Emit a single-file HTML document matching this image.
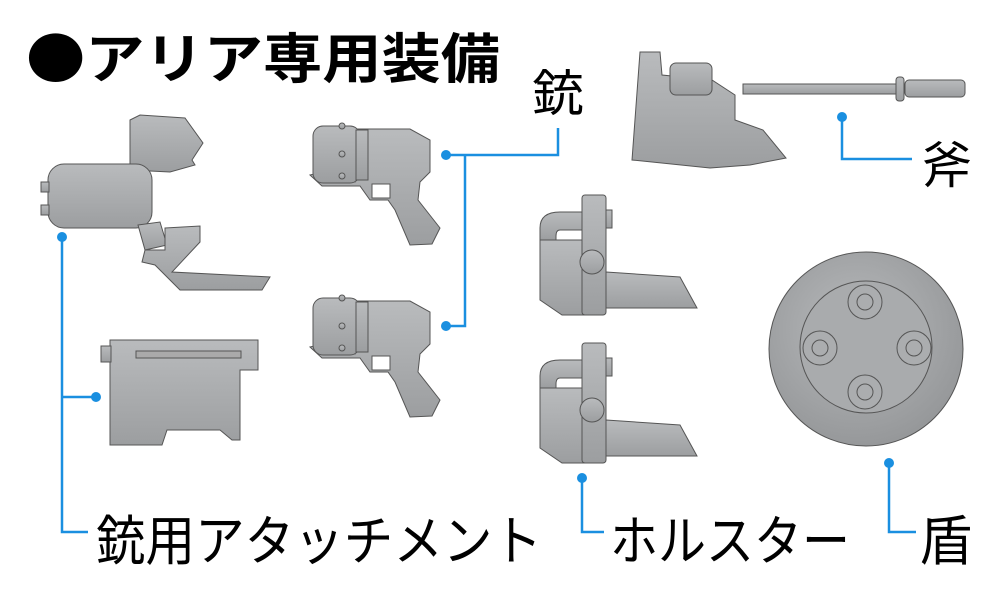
<!DOCTYPE html>
<html><head><meta charset="utf-8"><style>
html,body{margin:0;padding:0;background:#fff;}
svg{display:block}
text{font-family:"Liberation Sans","Noto Sans CJK JP",sans-serif;}
</style></head><body>
<svg width="1000" height="603" viewBox="0 0 1000 603" xmlns="http://www.w3.org/2000/svg">
<defs>
<linearGradient id="g" x1="0" y1="0" x2="0" y2="1"><stop offset="0" stop-color="#b9bbbd"/><stop offset="1" stop-color="#9c9ea0"/></linearGradient>
<radialGradient id="rg" cx="0.45" cy="0.4" r="0.6"><stop offset="0" stop-color="#b8babc"/><stop offset="1" stop-color="#96989a"/></radialGradient>
</defs>
<g stroke="#555" stroke-width="1" fill="url(#g)">
<!-- attachment upper -->
<path d="M130 120 L140 115 L185 118 L203 143 L192 160 L195 165 L170 172 L130 170 Z"/>
<rect x="48" y="164" width="104" height="64" rx="16"/>
<rect x="41" y="182" width="8" height="10"/><rect x="41" y="205" width="8" height="10"/>
<path d="M138 225 L160 222 L167 245 L145 250 Z"/>
<path d="M165 228 L200 226 L200 242 L172 272 L270 277 L262 290 L180 290 L155 265 L142 262 L145 250 L165 250 Z"/>
<!-- attachment lower -->
<path d="M110 340 L258 340 L258 370 L240 370 L240 440 L232 440 L220 430 L167 430 L162 445 L110 445 Z"/>
<rect x="101" y="346" width="10" height="16"/>
<rect x="136" y="351" width="105" height="7" fill="#aaa"/>
<!-- guns -->
<g id="gun">
<path d="M355 129 L410 129 L430 140 L430 172 L420 182 L418 200 L440 228 L432 244 L410 245 L395 210 L388 200 L370 200 L360 186 L322 186 L310 175 L322 172 L355 182 Z"/>
<rect x="372" y="184" width="18" height="14" fill="#fff"/>
<rect x="313" y="126" width="47" height="57" rx="10"/>
<rect x="356" y="130" width="12" height="50"/>
<circle cx="342" cy="126" r="3"/><circle cx="342" cy="154" r="3"/><circle cx="342" cy="176" r="3"/>
</g>
<use href="#gun" transform="translate(0,172)"/>
<!-- axe -->
<path d="M640 52 L660 52 L662 75 L712 80 L735 95 L735 120 L763 130 L786 158 L750 165 L710 168 L632 160 Z"/>
<rect x="670" y="63" width="42" height="32" rx="6"/>
<rect x="743" y="84" width="158" height="10"/>
<rect x="896" y="77" width="8" height="24" rx="3"/>
<rect x="905" y="80" width="60" height="17" rx="4"/>
<!-- holsters -->
<g id="hol">
<path d="M540 228 Q540 212 560 212 L582 212 L582 230 L560 230 Q556 230 556 236 L556 240 L540 240 Z"/>
<path d="M540 240 L582 240 L585 315 L562 315 L540 300 Z"/>
<rect x="582" y="195" width="24" height="120" rx="3"/>
<rect x="606" y="210" width="6" height="18"/>
<path d="M606 272 L680 277 L697 308 L606 308 Z"/>
<circle cx="592" cy="262" r="12"/>
</g>
<use href="#hol" transform="translate(0,148)"/>
<!-- shield -->
<circle cx="866" cy="349" r="97" fill="url(#rg)"/>
<circle cx="866" cy="347" r="66" fill="#a9abad"/>
<g fill="#abadaf"><circle cx="865" cy="302" r="17"/><circle cx="865" cy="302" r="8"/>
<circle cx="820" cy="348" r="17"/><circle cx="820" cy="348" r="8"/>
<circle cx="914" cy="348" r="17"/><circle cx="914" cy="348" r="8"/>
<circle cx="865" cy="392" r="17"/><circle cx="865" cy="392" r="8"/></g>
</g>
<!-- connectors -->
<g stroke="#1a8fe0" stroke-width="2.5" fill="none">
<path d="M62 237 V532 H88"/><path d="M62 397 H96"/>
<path d="M446 155 H558 V128"/><path d="M465 155 V326 H446"/>
<path d="M842 117 V159 H912"/>
<path d="M582 478 V532 H604"/>
<path d="M889 463 V532 H916"/>
</g>
<g fill="#1a8fe0">
<circle cx="62" cy="237" r="5"/><circle cx="96" cy="397" r="5"/>
<circle cx="446" cy="155" r="5"/><circle cx="446" cy="326" r="5"/>
<circle cx="842" cy="117" r="5"/><circle cx="582" cy="478" r="5"/><circle cx="889" cy="463" r="5"/>
</g>
<!-- text -->
<text x="26" y="78" font-size="54" font-weight="bold" textLength="474" lengthAdjust="spacingAndGlyphs" style='font-family:"Noto Sans CJK JP",sans-serif'>●アリア専用装備</text>
<text x="532" y="111" font-size="50" textLength="52" lengthAdjust="spacingAndGlyphs">銃</text>
<text x="922" y="183" font-size="50" textLength="50" lengthAdjust="spacingAndGlyphs">斧</text>
<text x="96" y="560" font-size="54" textLength="446" lengthAdjust="spacingAndGlyphs">銃用アタッチメント</text>
<text x="610" y="560" font-size="54" textLength="240" lengthAdjust="spacingAndGlyphs">ホルスター</text>
<text x="920" y="560" font-size="54" textLength="52" lengthAdjust="spacingAndGlyphs">盾</text>
</svg>
</body></html>
